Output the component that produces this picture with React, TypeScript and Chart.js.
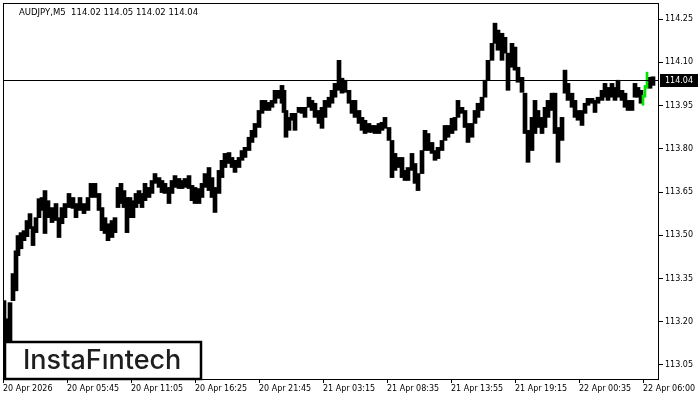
import { useEffect, useRef } from "react";
import { Chart, registerables } from "chart.js";

Chart.register(...registerables);

const TITLE_TEXT = "AUDJPY,M5  114.02 114.05 114.02 114.04";
const CURRENT_PRICE = 114.04;
const CURRENT_LABEL = "114.04";
const LOGO_TEXT = "InstaFıntech";

const xTickIdx = [0, 64, 128, 192, 256, 320, 384, 448, 512, 576, 640];
const xTickLabels = [
  "20 Apr 2026", "20 Apr 05:45", "20 Apr 11:05", "20 Apr 16:25", "20 Apr 21:45",
  "21 Apr 03:15", "21 Apr 08:35", "21 Apr 13:55", "21 Apr 19:15", "22 Apr 00:35", "22 Apr 06:00",
];
const yTicks = [113.05, 113.2, 113.35, 113.5, 113.65, 113.8, 113.95, 114.1, 114.25];
const Y_MIN = 113.001;
const Y_MAX = 114.306;
const X_MAX = 656;

// bar index (5-minute steps) of each sampled bar group
const barT = [1,4,7,10,13,15,18,21,24,27,30,33,36,39,42,45,49,53,56,59,62,66,70,73,77,81,85,88,92,96,99,102,105,109,112,115,118,121,124,127,130,133,136,139,142,146,149,152,156,159,162,166,169,172,176,179,182,186,189,192,196,199,202,206,209,212,216,219,222,226,229,232,236,239,242,246,249,252,256,259,262,266,269,272,276,279,281,283,286,289,292,296,299,302,306,309,312,316,319,322,326,329,332,336,339,342,346,349,352,356,359,362,366,369,372,376,379,382,386,389,392,395,399,402,405,409,412,415,419,422,425,429,432,435,439,442,445,449,452,455,459,462,465,469,472,475,479,482,485,489,492,495,499,502,505,509,512,515,519,522,525,529,532,535,539,542,545,549,552,555,559,562,565,569,572,575,579,582,585,589,592,595,599,602,605,609,612,615,619,622,625,629,632,635,638,647,650];

const barHigh = [113.273,113.210,113.266,113.367,113.446,113.499,113.509,113.516,113.551,113.575,113.530,113.561,113.627,113.631,113.655,113.620,113.596,113.610,113.561,113.596,113.610,113.645,113.631,113.610,113.631,113.610,113.631,113.680,113.680,113.645,113.596,113.561,113.540,113.551,113.561,113.666,113.680,113.655,113.631,113.631,113.620,113.645,113.655,113.645,113.680,113.666,113.690,113.714,113.700,113.690,113.680,113.666,113.690,113.707,113.697,113.690,113.697,113.707,113.673,113.666,113.662,113.680,113.714,113.735,113.700,113.666,113.725,113.760,113.784,113.787,113.770,113.760,113.770,113.794,113.805,113.840,113.864,113.888,113.933,113.968,113.968,113.961,113.968,114.003,114.003,114.020,114.003,113.933,113.909,113.923,113.923,113.944,113.944,113.944,113.979,113.968,113.958,113.933,113.944,113.968,113.979,114.003,114.027,114.107,114.045,114.038,114.003,113.968,113.968,113.933,113.909,113.899,113.888,113.881,113.881,113.888,113.892,113.909,113.874,113.829,113.784,113.770,113.770,113.725,113.735,113.784,113.749,113.714,113.794,113.864,113.853,113.822,113.794,113.805,113.829,113.881,113.881,113.906,113.909,113.968,113.944,113.933,113.888,113.888,113.933,113.958,113.979,114.038,114.107,114.166,114.236,114.212,114.201,114.187,114.132,114.166,114.153,114.083,114.048,113.993,113.864,113.909,113.968,113.933,113.909,113.944,113.968,113.993,113.993,113.874,113.909,114.073,114.027,113.993,113.968,113.933,113.933,113.958,113.975,113.975,113.968,113.979,114.003,114.027,114.013,114.027,114.013,114.038,114.003,113.993,113.968,113.968,114.027,114.013,114.003,114.048,114.050];

const barLow = [113.100,113.100,113.100,113.273,113.307,113.429,113.453,113.481,113.495,113.523,113.464,113.509,113.561,113.586,113.506,113.561,113.544,113.551,113.492,113.540,113.561,113.596,113.593,113.561,113.586,113.575,113.586,113.631,113.631,113.586,113.516,113.506,113.481,113.492,113.509,113.596,113.610,113.596,113.509,113.561,113.561,113.596,113.610,113.596,113.620,113.631,113.645,113.680,113.666,113.648,113.645,113.610,113.645,113.666,113.662,113.662,113.666,113.662,113.620,113.610,113.610,113.631,113.666,113.655,113.631,113.579,113.645,113.700,113.735,113.749,113.735,113.718,113.735,113.760,113.770,113.794,113.822,113.840,113.874,113.923,113.933,113.933,113.944,113.958,113.975,113.958,113.926,113.840,113.864,113.899,113.864,113.926,113.923,113.909,113.944,113.933,113.909,113.888,113.871,113.909,113.944,113.958,113.979,114.003,113.993,113.996,113.958,113.923,113.909,113.888,113.864,113.853,113.857,113.857,113.853,113.853,113.864,113.871,113.829,113.700,113.725,113.735,113.700,113.690,113.690,113.725,113.680,113.655,113.714,113.794,113.794,113.784,113.760,113.766,113.794,113.829,113.840,113.853,113.864,113.909,113.923,113.874,113.822,113.840,113.888,113.909,113.933,113.979,114.038,114.107,114.166,114.142,114.107,114.132,114.003,114.083,114.073,114.031,113.996,113.853,113.753,113.794,113.853,113.874,113.853,113.874,113.909,113.933,113.853,113.753,113.829,113.993,113.968,113.944,113.909,113.899,113.881,113.923,113.951,113.958,113.926,113.958,113.968,113.979,113.968,113.979,113.968,113.979,113.968,113.944,113.933,113.933,113.979,113.979,113.958,114.010,114.020];

const greenT = [640, 642, 644];
const greenHigh = [113.986, 114.020, 114.066];
const greenLow = [113.951, 113.979, 114.010];

const AXIS_FONT = { family: "'DejaVu Sans', sans-serif", size: 8 };

export default function App() {
  const canvasRef = useRef<HTMLCanvasElement | null>(null);

  useEffect(() => {
    const canvas = canvasRef.current;
    if (!canvas) return;

    const deco = {
      id: "deco",
      afterDatasetsDraw(chart: any) {
        const { ctx, chartArea: a, scales } = chart;
        const y = Math.round(scales.y.getPixelForValue(CURRENT_PRICE)) + 0.5;
        ctx.save();
        ctx.strokeStyle = "#000";
        ctx.lineWidth = 1;
        ctx.beginPath();
        ctx.moveTo(a.left, y);
        ctx.lineTo(a.right, y);
        ctx.stroke();

        // logo box
        const bx = a.left + 1;
        const by = a.bottom - 38;
        const bw = 198;
        const bh = 38;
        ctx.fillStyle = "#fff";
        ctx.fillRect(bx, by, bw, bh);
        ctx.lineWidth = 2.5;
        ctx.strokeStyle = "#000";
        ctx.strokeRect(bx + 1, by + 1, bw - 2, bh - 1);
        ctx.fillStyle = "#1e1e1e";
        ctx.font = "500 27px Inter, 'Open Sans', sans-serif";
        ctx.textAlign = "left";
        ctx.textBaseline = "alphabetic";
        ctx.fillText(LOGO_TEXT, bx + 19, a.bottom - 10, 160);
        ctx.restore();
      },
      afterDraw(chart: any) {
        const { ctx, chartArea: a, scales } = chart;
        ctx.save();
        ctx.strokeStyle = "#000";
        ctx.lineWidth = 1;
        ctx.strokeRect(a.left + 0.5, a.top + 0.5, a.right - a.left - 1, a.bottom - a.top);
        // title
        ctx.fillStyle = "#000";
        ctx.font = "8.5px 'DejaVu Sans', sans-serif";
        ctx.textAlign = "left";
        ctx.textBaseline = "alphabetic";
        ctx.fillText(TITLE_TEXT, 19, 15);
        // current price label
        const y = Math.round(scales.y.getPixelForValue(CURRENT_PRICE));
        ctx.fillStyle = "#000";
        ctx.fillRect(a.right + 1, y - 6, 38, 13);
        ctx.fillStyle = "#fff";
        ctx.font = "8px 'DejaVu Sans', sans-serif";
        ctx.textBaseline = "middle";
        ctx.fillText(CURRENT_LABEL, a.right + 6, y + 0.5);
        ctx.restore();
      },
    };

    const chart = new Chart(canvas, {
      type: "bar",
      data: {
        datasets: [
          {
            data: greenT.map((t, i) => ({ x: t, y: [greenLow[i], greenHigh[i]] })),
            backgroundColor: "#00e600",
            borderWidth: 0,
            barThickness: 2,
            grouped: false,
            order: 1,
          } as any,
          {
            data: barT.map((t, i) => ({ x: t, y: [barLow[i], barHigh[i]] })),
            backgroundColor: "#000",
            borderWidth: 0,
            barThickness: 4,
            grouped: false,
            order: 2,
          } as any,
        ],
      },
      options: {
        animation: false,
        responsive: false,
        maintainAspectRatio: false,
        events: [],
        layout: { padding: { top: 3, left: 3, right: 0, bottom: 0 } },
        plugins: { legend: { display: false }, tooltip: { enabled: false }, title: { display: false } },
        scales: {
          x: {
            type: "linear",
            min: 0,
            max: X_MAX,
            offset: false,
            grid: { display: true, drawOnChartArea: false, drawTicks: true, tickLength: 4, color: "#000", offset: false },
            border: { display: false },
            afterBuildTicks: (s: any) => {
              s.ticks = xTickIdx.map((v) => ({ value: v }));
            },
            afterFit: (s: any) => {
              s.height = 21;
              s.paddingLeft = 0;
              s.paddingRight = 0;
            },
            ticks: {
              autoSkip: false,
              maxRotation: 0,
              minRotation: 0,
              align: "start",
              padding: 1,
              color: "#000",
              font: AXIS_FONT,
              callback: (v: any) => {
                const k = xTickIdx.indexOf(Number(v));
                return k >= 0 ? xTickLabels[k] : "";
              },
            },
          },
          y: {
            type: "linear",
            position: "right",
            min: Y_MIN,
            max: Y_MAX,
            grid: { display: true, drawOnChartArea: false, drawTicks: true, tickLength: 4, color: "#000" },
            border: { display: false },
            afterBuildTicks: (s: any) => {
              s.ticks = yTicks.map((v) => ({ value: v }));
            },
            afterFit: (s: any) => {
              s.width = 41;
              s.paddingTop = 0;
              s.paddingBottom = 0;
            },
            ticks: {
              autoSkip: false,
              padding: 2,
              color: "#000",
              font: AXIS_FONT,
              callback: (v: any) => Number(v).toFixed(2),
            },
          },
        },
      } as any,
      plugins: [deco],
    });

    return () => chart.destroy();
  }, []);

  return (
    <div style={{ position: "absolute", left: 0, top: 0, width: 700, height: 400, background: "#fff" }}>
      <canvas ref={canvasRef} width={700} height={400} style={{ display: "block", width: 700, height: 400 }} />
    </div>
  );
}
